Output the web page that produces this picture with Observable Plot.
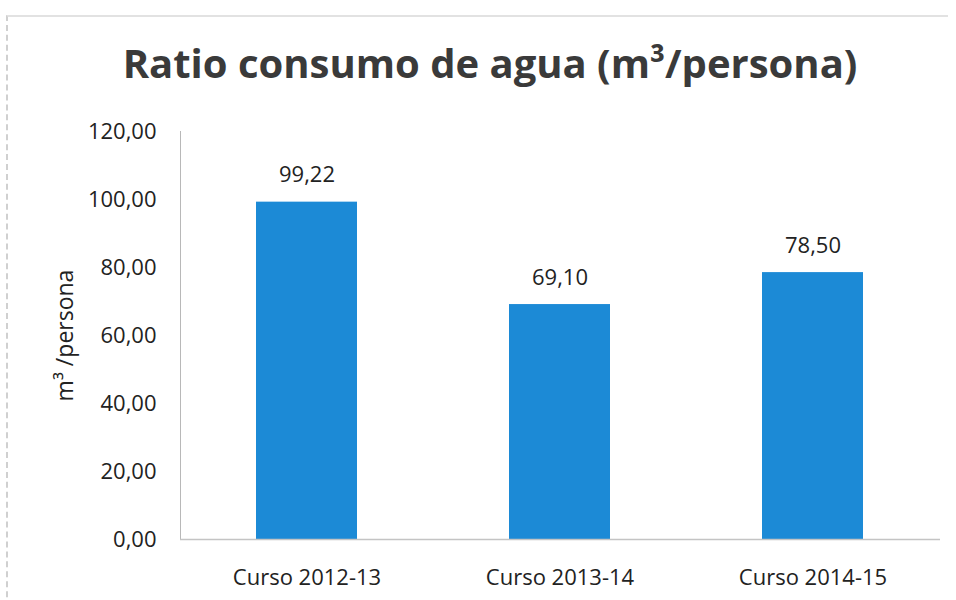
<!DOCTYPE html>
<html>
<head>
<meta charset="utf-8">
<script src="https://cdn.jsdelivr.net/npm/d3@7"></script>
<script src="https://cdn.jsdelivr.net/npm/@observablehq/plot@0.6"></script>
<style>
  html, body { margin: 0; padding: 0; background: #fff; }
  #wrap { position: relative; width: 956px; height: 600px; overflow: hidden; }
  #frame { position: absolute; left: 6px; top: 15px; width: 940px; height: 600px;
           border-top: 2px solid #e2e2e2; border-left: 2px dashed #d0d0d0; }
  #title { position: absolute; left: 0; top: 43px; width: 980px; text-align: center;
           font-family: "Open Sans", sans-serif; font-weight: 700; font-size: 40px;
           color: #3a3a3a; line-height: 1; }
  #chart { position: absolute; left: 0; top: 110px; }
</style>
</head>
<body>
<div id="wrap">
  <div id="frame"></div>
  <div id="title">Ratio consumo de agua (m³/persona)</div>
  <div id="chart"></div>
</div>
<script>
const categories = ["Curso 2012-13", "Curso 2013-14", "Curso 2014-15"];
const values = [99.22, 69.10, 78.50];
const yTicks = [0, 20, 40, 60, 80, 100, 120];
const yLabel = "m³ /persona";

const data = categories.map((c, i) => ({curso: c, valor: values[i]}));
const loc = d3.formatLocale({decimal: ",", thousands: ".", grouping: [3], currency: ["", "€"]});
const fmt = loc.format(".2f");

const chart = Plot.plot({
  width: 956,
  height: 490,
  marginTop: 21,
  marginBottom: 61,
  marginLeft: 180,
  marginRight: 16,
  style: {fontFamily: "Open Sans, sans-serif", fontSize: "22px", color: "#222", background: "transparent"},
  x: {domain: categories, paddingInner: 0.6, paddingOuter: 0.3, label: null},
  y: {domain: [0, 120], ticks: yTicks, label: null},
  marks: [
    Plot.frame({anchor: "left", stroke: "#b8b8b8"}),
    Plot.barY(data, {x: "curso", y: "valor", fill: "#1c8ad6"}),
    Plot.ruleY([0], {stroke: "#c4c4c4", strokeWidth: 1.5}),
    Plot.axisY({ticks: yTicks, tickSize: 0, tickPadding: 24, tickFormat: fmt, fontSize: 22, label: null}),
    Plot.axisX({tickSize: 0, tickPadding: 30, fontSize: 22, label: null}),
    Plot.text(data, {x: "curso", y: "valor", text: d => fmt(d.valor), dy: -27, fontSize: 22, fill: "#222"}),
    Plot.text([yLabel], {frameAnchor: "left", textAnchor: "middle", dx: -115, rotate: -90, text: d => d, fontSize: 23, fill: "#222"})
  ]
});
document.getElementById("chart").appendChild(chart);
</script>
</body>
</html>
